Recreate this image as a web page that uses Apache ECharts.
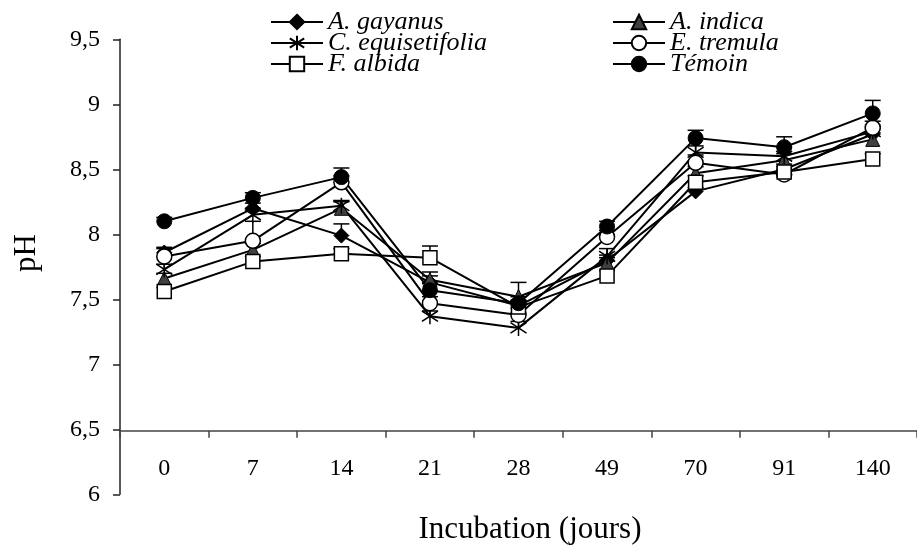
<!DOCTYPE html>
<html>
<head>
<meta charset="utf-8">
<script src="https://cdn.jsdelivr.net/npm/echarts@6/dist/echarts.min.js"></script>
<style>html,body{margin:0;padding:0;background:#fff}#c{width:917px;height:547px}</style>
</head>
<body>
<div id="c"></div>
<script>
const categories = ['0', '7', '14', '21', '28', '49', '70', '91', '140'];
const seriesNames = ['A. gayanus', 'A. indica', 'C. equisetifolia', 'E. tremula', 'F. albida', 'Témoin'];
const gayanus   = [7.86, 8.20, 7.99, 7.63, 7.45, 7.80, 8.33, 8.50, 8.77];
const indica    = [7.66, 7.88, 8.20, 7.65, 7.52, 7.78, 8.47, 8.57, 8.73];
const equiset   = [7.73, 8.15, 8.22, 7.37, 7.28, 7.83, 8.63, 8.60, 8.79];
const tremula   = [7.83, 7.95, 8.40, 7.47, 7.38, 7.98, 8.55, 8.46, 8.82];
const albida    = [7.56, 7.79, 7.85, 7.82, 7.44, 7.68, 8.40, 8.48, 8.58];
const temoin    = [8.10, 8.28, 8.44, 7.57, 7.47, 8.06, 8.74, 8.67, 8.93];
const errGayanus = [0.03, 0.04, 0.09, 0.05, 0.04, 0.04, 0.03, 0.04, 0.04];
const errIndica  = [0.04, 0.05, 0.05, 0.06, 0.11, 0.04, 0.05, 0.05, 0.05];
const errEquiset = [0.04, 0.05, 0.04, 0.04, 0.05, 0.06, 0.05, 0.07, 0.05];
const errTremula = [0.07, 0.15, 0.05, 0.05, 0.05, 0.05, 0.06, 0.04, 0.05];
const errAlbida  = [0.03, 0.04, 0.04, 0.09, 0.05, 0.04, 0.05, 0.04, 0.04];
const errTemoin  = [0.03, 0.04, 0.07, 0.05, 0.05, 0.04, 0.06, 0.08, 0.10];
const yMin = 6, yMax = 9.5, yStep = 0.5;

const values = [gayanus, indica, equiset, tremula, albida, temoin];
const errors = [errGayanus, errIndica, errEquiset, errTremula, errAlbida, errTemoin];
const asterisk = 'path://M10,0 L10,20 M0.5,3.5 L19.5,16.5 M0.5,16.5 L19.5,3.5';
const styles = [
  {symbol: 'diamond', size: 15, fill: '#000', bw: 1},
  {symbol: 'triangle', size: 14, fill: '#404040', bw: 1},
  {symbol: asterisk, size: 16, fill: '#000', bw: 1.5},
  {symbol: 'circle', size: 15, fill: '#fff', bw: 1.5},
  {symbol: 'rect', size: 14, fill: '#fff', bw: 1.5},
  {symbol: 'circle', size: 15, fill: '#000', bw: 1}
];
const FONT = 'Liberation Serif';

const series = [];
values.forEach((vals, k) => {
  series.push({
    type: 'custom',
    name: seriesNames[k] + ' err',
    z: 1,
    silent: true,
    encode: {x: 0, y: 1},
    data: vals.map((v, i) => [i, v, errors[k][i]]),
    renderItem: function (params, api) {
      const p0 = api.coord([api.value(0), api.value(1)]);
      const p1 = api.coord([api.value(0), api.value(1) + api.value(2)]);
      return {
        type: 'group',
        children: [
          {type: 'line', shape: {x1: p0[0], y1: p0[1], x2: p1[0], y2: p1[1]}, style: {stroke: '#000', lineWidth: 1.5}},
          {type: 'line', shape: {x1: p1[0] - 8, y1: p1[1], x2: p1[0] + 8, y2: p1[1]}, style: {stroke: '#000', lineWidth: 1.5}}
        ]
      };
    }
  });
});
values.forEach((vals, k) => {
  const s = styles[k];
  series.push({
    type: 'line',
    name: seriesNames[k],
    z: 2,
    data: vals,
    symbol: s.symbol,
    symbolSize: s.size,
    showAllSymbol: true,
    lineStyle: {color: '#000', width: 2},
    itemStyle: {color: s.fill, borderColor: '#000', borderWidth: s.bw, opacity: 1},
    emphasis: {disabled: true}
  });
});

const legendCommon = {
  orient: 'vertical',
  padding: 0,
  itemGap: 0,
  itemWidth: 52,
  itemHeight: 18,
  selectedMode: false,
  textStyle: {fontFamily: FONT, fontStyle: 'italic', fontSize: 26, color: '#000', lineHeight: 21}
};
const legendCols = [270, 612];
const legendRows = [9, 30, 51];
const legends = seriesNames.map((n, k) => Object.assign({}, legendCommon, {
  left: legendCols[k % 2], top: legendRows[Math.floor(k / 2)], data: [n]
}));

const chart = echarts.init(document.getElementById('c'), null, {renderer: 'canvas'});
chart.setOption({
  animation: false,
  backgroundColor: '#fff',
  grid: {left: 120, right: -10, top: 39.3, bottom: 52.7, containLabel: false},
  legend: legends,
  xAxis: {
    type: 'category',
    data: categories,
    boundaryGap: true,
    offset: -63.6,
    axisLine: {lineStyle: {color: '#444', width: 1.5}},
    axisTick: {show: true, inside: false, length: 7, alignWithLabel: false, lineStyle: {color: '#444', width: 1.5}},
    axisLabel: {fontFamily: FONT, fontSize: 24, color: '#000', margin: 26},
    splitLine: {show: false}
  },
  yAxis: {
    type: 'value',
    min: yMin, max: yMax, interval: yStep,
    axisLine: {show: true, lineStyle: {color: '#222', width: 1.5}},
    axisTick: {show: true, inside: false, length: 7, lineStyle: {color: '#222', width: 1.5}},
    axisLabel: {fontFamily: FONT, fontSize: 24, color: '#000', margin: 20,
      formatter: v => String(v).replace('.', ',')},
    splitLine: {show: false}
  },
  graphic: [
    {type: 'text', x: 27, y: 253, rotation: Math.PI / 2, z: 10,
      style: {text: 'pH', font: '31px "Liberation Serif"', fill: '#000', textAlign: 'center', textVerticalAlign: 'middle'}},
    {type: 'text', x: 530, y: 530, z: 10,
      style: {text: 'Incubation (jours)', font: '31px "Liberation Serif"', fill: '#000', textAlign: 'center', textVerticalAlign: 'middle'}}
  ],
  series: series
});
</script>
</body>
</html>
